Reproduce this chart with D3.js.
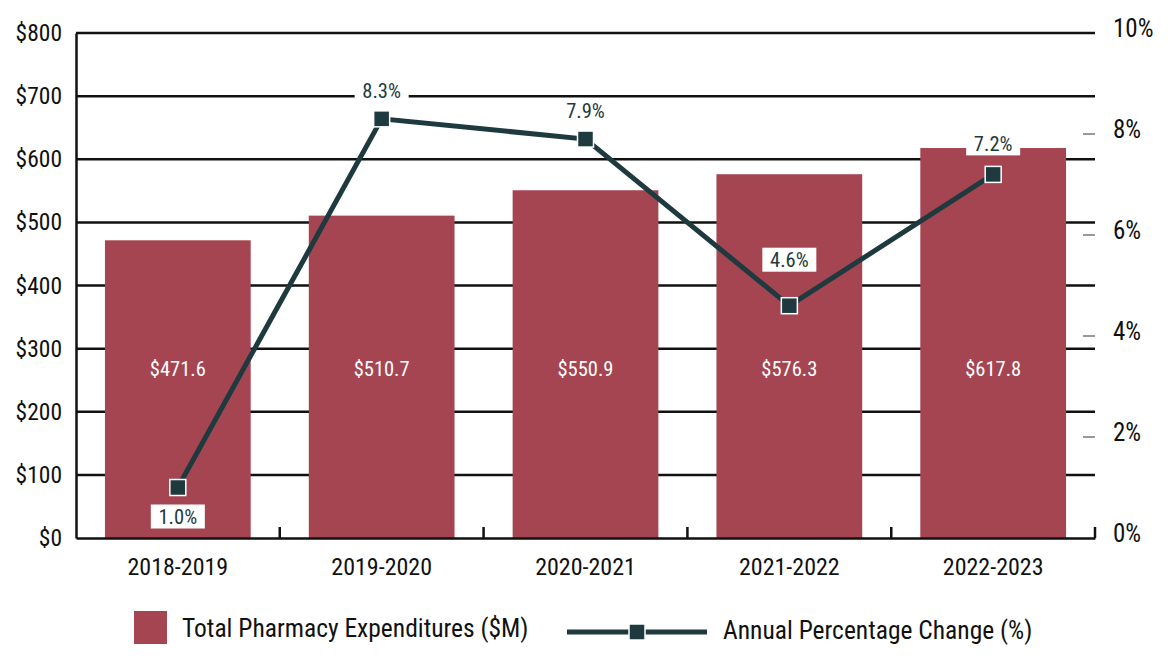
<!DOCTYPE html>
<html><head><meta charset="utf-8">
<script src="https://cdn.jsdelivr.net/npm/d3@7/dist/d3.min.js"></script>
<style>
body{margin:0;background:#fff;}
text{font-family:'Liberation Sans Narrow','Arial Narrow','Roboto Condensed',sans-serif;}
</style></head>
<body><svg id="c" width="1170" height="660"></svg>
<script>
const categories = ["2018-2019","2019-2020","2020-2021","2021-2022","2022-2023"];
const expenditures = [471.6, 510.7, 550.9, 576.3, 617.8];
const pctChange = [1.0, 8.3, 7.9, 4.6, 7.2];
const leftTicks = [0,100,200,300,400,500,600,700,800];
const rightTicks = [0,2,4,6,8,10];
const legendLabels = ["Total Pharmacy Expenditures ($M)","Annual Percentage Change (%)"];

const barColor = "#A54552", lineColor = "#1E3A3E";
const svg = d3.select("#c");
const L = 76, R = 1095, T = 33, B = 538;
const x = d3.scaleBand().domain(categories).range([L, R]).paddingInner(0.285).paddingOuter(0.142);
const xc = d => x(d) + x.bandwidth()/2;
const yL = d3.scaleLinear().domain([0,800]).range([B, T]);
const yR = d3.scaleLinear().domain([0,10]).range([B, T]);

// gridlines
svg.append("g").selectAll("line").data(leftTicks.filter(d=>d>0)).join("line")
  .attr("x1", L).attr("x2", R).attr("y1", d=>yL(d)).attr("y2", d=>yL(d))
  .attr("stroke", "#111").attr("stroke-width", 2.5);

// left axis
const la = svg.append("g").attr("transform", `translate(${L},0)`)
  .call(d3.axisLeft(yL).tickValues(leftTicks).tickSize(0).tickPadding(14).tickFormat(d=>"$"+d));
la.select(".domain").attr("stroke","#111").attr("stroke-width",2.5);
la.selectAll("text").attr("font-size",23.5).attr("fill","#111");

// right axis
const ra = svg.append("g").attr("transform", `translate(${R},0)`)
  .call(d3.axisRight(yR).tickValues(rightTicks).tickSize(0).tickPadding(18).tickFormat(d=>d+"%"));
ra.select(".domain").remove();
ra.selectAll("text").attr("font-size",25).attr("fill","#111").attr("dy","0.15em");
svg.append("g").selectAll("line").data(rightTicks.filter(d=>d>0 && d<10)).join("line")
  .attr("x1", R-12).attr("x2", R).attr("y1", d=>yR(d)).attr("y2", d=>yR(d))
  .attr("stroke","#999").attr("stroke-width",2);

// bars
svg.append("g").selectAll("rect").data(categories).join("rect")
  .attr("x", d=>x(d)).attr("width", x.bandwidth())
  .attr("y", (d,i)=>yL(expenditures[i])).attr("height", (d,i)=>yL(0)-yL(expenditures[i]))
  .attr("fill", barColor);

// bottom axis
const ba = svg.append("g").attr("transform", `translate(0,${B})`)
  .call(d3.axisBottom(x).tickSize(0).tickPadding(20));
ba.select(".domain").attr("stroke","#111").attr("stroke-width",2.5);
ba.selectAll("text").attr("font-size",24).attr("fill","#111");
const sep = categories.slice(1).map(d => x(d) - x.step()*x.paddingInner()/2);
sep.push(R);
svg.append("g").selectAll("line").data(sep).join("line")
  .attr("x1", d=>d).attr("x2", d=>d).attr("y1", B).attr("y2", B-11)
  .attr("stroke","#111").attr("stroke-width",2.5);

// bar value labels
svg.append("g").selectAll("text").data(categories).join("text")
  .attr("x", d=>xc(d)).attr("y", yL(268)).attr("text-anchor","middle")
  .attr("fill","#fff").attr("font-size",20.5).attr("dy","0.35em")
  .text((d,i)=>"$"+expenditures[i].toFixed(1));

// line
const line = d3.line().x((d,i)=>xc(categories[i])).y(d=>yR(d));
svg.append("path").datum(pctChange).attr("d", line)
  .attr("fill","none").attr("stroke",lineColor).attr("stroke-width",5);

// markers
const ms = 16;
svg.append("g").selectAll("rect").data(pctChange).join("rect")
  .attr("x",(d,i)=>xc(categories[i])-ms/2).attr("y", d=>yR(d)-ms/2)
  .attr("width",ms).attr("height",ms).attr("fill",lineColor)
  .attr("stroke","#fff").attr("stroke-width",1.5);

// pct labels
const offs = [29, -28, -28, -46, -31];
const lg = svg.append("g");
pctChange.forEach((v,i)=>{
  const cx = xc(categories[i]), cy = yR(v)+offs[i];
  lg.append("rect").attr("x",cx-27).attr("y",cy-12).attr("width",54).attr("height",24).attr("fill","#fff");
  lg.append("text").attr("x",cx).attr("y",cy).attr("dy","0.36em").attr("text-anchor","middle")
    .attr("font-size",20.5).attr("fill","#1E3A3E").text(v.toFixed(1)+"%");
});

// legend
const leg = svg.append("g");
leg.append("rect").attr("x",134).attr("y",611).attr("width",33).attr("height",33).attr("fill",barColor);
leg.append("text").attr("x",182).attr("y",628).attr("dy","0.36em").attr("font-size",25.5).attr("fill","#111").text(legendLabels[0]);
leg.append("line").attr("x1",567).attr("x2",707).attr("y1",632).attr("y2",632).attr("stroke",lineColor).attr("stroke-width",5);
leg.append("rect").attr("x",629).attr("y",624).attr("width",16).attr("height",16).attr("fill",lineColor).attr("stroke","#fff").attr("stroke-width",1.5);
leg.append("text").attr("x",723).attr("y",630).attr("dy","0.36em").attr("font-size",25.5).attr("fill","#111").text(legendLabels[1]);
</script></body></html>
